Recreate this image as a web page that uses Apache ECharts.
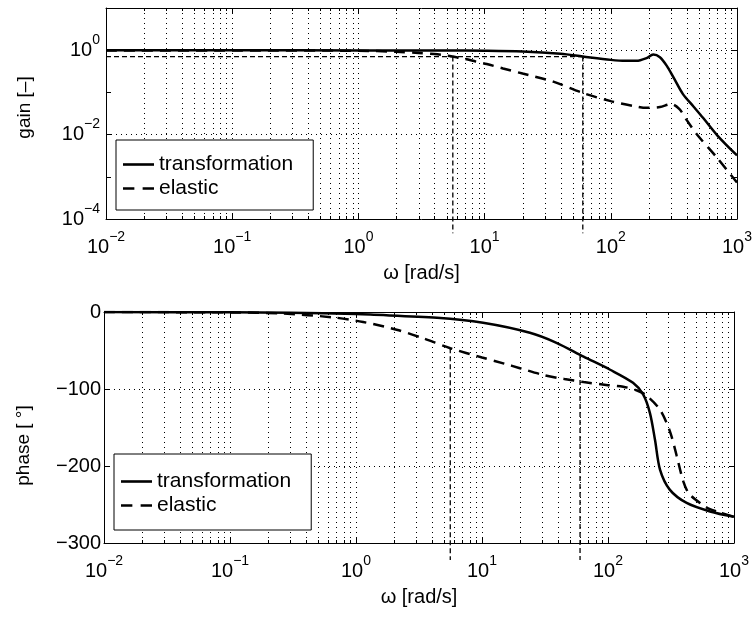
<!DOCTYPE html>
<html>
<head>
<meta charset="utf-8">
<script src="https://cdn.jsdelivr.net/npm/echarts@6/dist/echarts.min.js"></script>
<style>
html,body{margin:0;padding:0;background:#fff;}
#chart{width:755px;height:619px;}
</style>
</head>
<body>
<div id="chart"></div>
<script>
// ---------- data ----------
const seriesNames = ['transformation', 'elastic'];

// gain, transformation
const gainFreqT = [0.01, 0.1, 1, 5, 10, 20, 40, 60, 100, 130, 160, 192, 217, 245, 277, 313, 373, 450, 538, 700, 1000];
const gainT     = [1.0, 1.0, 0.99, 0.98, 0.97, 0.93, 0.82, 0.707, 0.59, 0.56, 0.56, 0.65, 0.79, 0.68, 0.43, 0.23, 0.091, 0.047, 0.025, 0.0095, 0.0032];

// gain, elastic
const gainFreqE = [0.01, 0.1, 1, 2, 3, 4, 5, 5.6, 7, 8.5, 10.4, 14, 20, 35, 60, 100, 150, 192, 245, 300, 350, 400, 480, 690, 1000];
const gainE     = [0.99, 0.99, 0.97, 0.92, 0.86, 0.81, 0.75, 0.707, 0.62, 0.54, 0.47, 0.37, 0.28, 0.18, 0.097, 0.062, 0.048, 0.043, 0.045, 0.053, 0.040, 0.022, 0.0102, 0.0029, 0.00073];

// phase, transformation
const phaseFreqT = [0.01, 0.1, 0.3, 1, 1.3, 4.4, 10.2, 24, 39, 64, 104, 158, 190, 215, 236, 259, 310, 421, 645, 1000];
const phaseT     = [0, -0.4, -1, -2.7, -3.4, -7.5, -14, -27, -40, -58, -75, -92, -107, -131, -166, -205, -231, -248, -259, -266];

// phase, elastic
const phaseFreqE = [0.01, 0.1, 0.26, 0.66, 1.14, 2.1, 3.4, 5.6, 10, 15, 20, 31, 45, 64, 100, 132, 170, 200, 259, 310, 350, 396, 440, 570, 645, 1000];
const phaseE     = [0, -0.5, -2, -7, -13, -23, -34, -47, -59, -67, -73, -82, -87, -91, -95, -97, -102, -108, -127, -155, -186, -220, -236, -251, -256, -266];

// bandwidth marker lines
const bwFreqElastic = 5.6;
const bwFreqTrans = 60;
const bwGain = 0.707;
const gainMarkerFloor = 4.6e-5;     // markers run just below the axis
const phaseAtBwElastic = -47;
const phaseAtBwTrans = -57;
const phaseMarkerFloor = -322;

// axis ranges / ticks
const xMin = 0.01, xMax = 1000;
const gainMin = 1e-4, gainMax = 10;
const phaseMin = -300, phaseMax = 0, phaseStep = 100;
const gainGridValues = [1, 0.01];
const minorMultipliers = [2, 3, 4, 5, 6, 7, 8, 9];
const decadeStarts = [0.01, 0.1, 1, 10, 100];

// ---------- helpers ----------
const FONT = 'Liberation Sans';
const zip = (xs, ys) => xs.map((x, i) => [x, ys[i]]);
const minorX = [];
decadeStarts.forEach(d => minorMultipliers.forEach(m => minorX.push(+(d * m).toPrecision(6))));

const powLabel = v => {
  const e = Math.round(Math.log10(v));
  return '{b|10}{e|' + (e < 0 ? '\u2212' + (-e) : e) + '}';
};
const rich = {
  b: {fontSize: 20, fontFamily: FONT, color: '#000', lineHeight: 34, verticalAlign: 'middle'},
  e: {fontSize: 14, fontFamily: FONT, color: '#000', lineHeight: 14, verticalAlign: 'top'}
};
const dotted = {color: '#000', width: 1, type: [1, 4]};

function minorRender(params, api) {
  const x = Math.round(api.coord([api.value(0), api.value(1)])[0]) + 0.5;
  const cs = params.coordSys;
  const y0 = cs.y, y1 = cs.y + cs.height;
  return {
    type: 'group',
    children: [
      {type: 'line', shape: {x1: x, y1: y0, x2: x, y2: y1}, style: {stroke: '#000', lineWidth: 1, lineDash: [1, 4]}},
      {type: 'line', shape: {x1: x, y1: y1, x2: x, y2: y1 - 3}, style: {stroke: '#000', lineWidth: 1}},
      {type: 'line', shape: {x1: x, y1: y0, x2: x, y2: y0 + 3}, style: {stroke: '#000', lineWidth: 1}}
    ]
  };
}

function xAxisPair(gridIndex) {
  const base = {
    type: 'log', logBase: 10, min: xMin, max: xMax, splitNumber: 5, gridIndex,
    axisLine: {show: true, onZero: false, lineStyle: {color: '#000', width: 1}},
    axisTick: {show: true, inside: true, length: 5, lineStyle: {color: '#000'}},
    minorTick: {show: false}
  };
  return [
    Object.assign({}, base, {
      position: 'bottom',
      axisLabel: {show: true, margin: 11, formatter: powLabel, rich},
      splitLine: {show: true, lineStyle: dotted},
      name: '\u03c9 [rad/s]', nameLocation: 'middle', nameGap: 44,
      nameTextStyle: {fontSize: 20, fontFamily: FONT, color: '#000'}
    }),
    Object.assign({}, base, {
      position: 'top', axisLabel: {show: false}, splitLine: {show: false}
    })
  ];
}

const lineStyleSolid = {color: '#000', width: 2.5, type: 'solid'};
const lineStyleDash = {color: '#000', width: 2.5, type: [11, 7]};
const markerStyle = {color: '#000', width: 1.3, type: [5, 3]};

const iconSolid = 'path://M0,0H31V2.6H0Z';
const iconDash = 'path://M0,0H11V2.6H0Z M19,0H30V2.6H19Z';
const legendData = [
  {name: seriesNames[0], icon: iconSolid},
  {name: seriesNames[1], icon: iconDash}
];
const legendBase = {
  orient: 'vertical', data: legendData,
  itemGap: 3, itemWidth: 31, itemHeight: 14,
  itemStyle: {color: '#000', borderWidth: 0},
  textStyle: {fontSize: 21, fontFamily: FONT, color: '#000'},
  borderColor: '#000', borderWidth: 1, backgroundColor: '#fff', borderRadius: 0,
  selectedMode: false
};

const option = {
  animation: false,
  backgroundColor: '#fff',
  textStyle: {fontFamily: FONT},
  grid: [
    {left: 106, top: 8, width: 631, height: 211, outerBoundsMode: 'none', containLabel: false},
    {left: 104, top: 312, width: 630, height: 231, outerBoundsMode: 'none', containLabel: false}
  ],
  legend: [
    Object.assign({}, legendBase, {left: 116, top: 140, padding: [14, 20, 11, 7]}),
    Object.assign({}, legendBase, {left: 114, top: 454, padding: [17, 20, 14, 7]})
  ],
  xAxis: [].concat(xAxisPair(0), xAxisPair(1)),
  yAxis: [
    {
      type: 'log', logBase: 10, min: gainMin, max: gainMax, splitNumber: 5, gridIndex: 0, position: 'left',
      axisLine: {show: true, lineStyle: {color: '#000', width: 1}},
      axisTick: {show: true, inside: true, length: 5, lineStyle: {color: '#000'}},
      axisLabel: {
        show: true, margin: 6, rich,
        formatter: v => {
          const e = Math.round(Math.log10(v));
          return (e % 2 === 0) ? powLabel(v) : '';
        }
      },
      splitLine: {show: false},
      name: 'gain [\u2013]', nameLocation: 'middle', nameGap: 72,
      nameTextStyle: {fontSize: 19, fontFamily: FONT, color: '#000', padding: [0, 0, 0, 12]}
    },
    {
      type: 'log', logBase: 10, min: gainMin, max: gainMax, splitNumber: 5, gridIndex: 0, position: 'right',
      axisLine: {show: true, lineStyle: {color: '#000', width: 1}},
      axisTick: {show: true, inside: true, length: 5, lineStyle: {color: '#000'}},
      axisLabel: {show: false}, splitLine: {show: false}
    },
    {
      type: 'value', min: phaseMin, max: phaseMax, interval: phaseStep, gridIndex: 1, position: 'left',
      axisLine: {show: true, onZero: false, lineStyle: {color: '#000', width: 1}},
      axisTick: {show: true, inside: true, length: 5, lineStyle: {color: '#000'}},
      axisLabel: {
        show: true, margin: 3, fontSize: 20, fontFamily: FONT, color: '#000',
        formatter: v => (v < 0 ? '\u2212' + (-v) : String(v))
      },
      splitLine: {show: true, lineStyle: dotted},
      name: 'phase [ \u00b0]', nameLocation: 'middle', nameGap: 71,
      nameTextStyle: {fontSize: 19, fontFamily: FONT, color: '#000', padding: [0, 36, 0, 0]}
    },
    {
      type: 'value', min: phaseMin, max: phaseMax, interval: phaseStep, gridIndex: 1, position: 'right',
      axisLine: {show: true, onZero: false, lineStyle: {color: '#000', width: 1}},
      axisTick: {show: true, inside: true, length: 5, lineStyle: {color: '#000'}},
      axisLabel: {show: false}, splitLine: {show: false}
    }
  ],
  series: [
    // minor grid + ticks (top)
    {
      type: 'custom', xAxisIndex: 0, yAxisIndex: 0, z: 1, silent: true, clip: false,
      data: minorX.map(v => [v, 1]), renderItem: minorRender,
      markLine: {
        silent: true, symbol: ['none', 'none'], label: {show: false},
        lineStyle: dotted, data: gainGridValues.map(v => ({yAxis: v}))
      }
    },
    // minor grid + ticks (bottom)
    {
      type: 'custom', xAxisIndex: 2, yAxisIndex: 2, z: 1, silent: true, clip: false,
      data: minorX.map(v => [v, -150]), renderItem: minorRender
    },
    // gain curves
    {
      name: seriesNames[0], type: 'line', xAxisIndex: 0, yAxisIndex: 0, z: 5,
      data: zip(gainFreqT, gainT), showSymbol: false, symbol: 'none', smooth: 0.3,
      lineStyle: lineStyleSolid, itemStyle: {color: '#000'}
    },
    {
      name: seriesNames[1], type: 'line', xAxisIndex: 0, yAxisIndex: 0, z: 5,
      data: zip(gainFreqE, gainE), showSymbol: false, symbol: 'none', smooth: 0.3,
      lineStyle: lineStyleDash, itemStyle: {color: '#000'}
    },
    // gain bandwidth markers
    {
      type: 'line', xAxisIndex: 0, yAxisIndex: 0, z: 4, clip: false, symbol: 'none', silent: true,
      data: [[xMin, bwGain], [bwFreqTrans, bwGain]], lineStyle: markerStyle
    },
    {
      type: 'line', xAxisIndex: 0, yAxisIndex: 0, z: 4, clip: false, symbol: 'none', silent: true,
      data: [[bwFreqElastic, bwGain], [bwFreqElastic, gainMarkerFloor]], lineStyle: markerStyle
    },
    {
      type: 'line', xAxisIndex: 0, yAxisIndex: 0, z: 4, clip: false, symbol: 'none', silent: true,
      data: [[bwFreqTrans, bwGain], [bwFreqTrans, gainMarkerFloor]], lineStyle: markerStyle
    },
    // phase curves
    {
      name: seriesNames[0], type: 'line', xAxisIndex: 2, yAxisIndex: 2, z: 5,
      data: zip(phaseFreqT, phaseT), showSymbol: false, symbol: 'none', smooth: 0.3,
      lineStyle: lineStyleSolid, itemStyle: {color: '#000'}
    },
    {
      name: seriesNames[1], type: 'line', xAxisIndex: 2, yAxisIndex: 2, z: 5,
      data: zip(phaseFreqE, phaseE), showSymbol: false, symbol: 'none', smooth: 0.3,
      lineStyle: lineStyleDash, itemStyle: {color: '#000'}
    },
    // phase bandwidth markers
    {
      type: 'line', xAxisIndex: 2, yAxisIndex: 2, z: 4, clip: false, symbol: 'none', silent: true,
      data: [[bwFreqElastic, phaseAtBwElastic], [bwFreqElastic, phaseMarkerFloor]], lineStyle: markerStyle
    },
    {
      type: 'line', xAxisIndex: 2, yAxisIndex: 2, z: 4, clip: false, symbol: 'none', silent: true,
      data: [[bwFreqTrans, phaseAtBwTrans], [bwFreqTrans, phaseMarkerFloor]], lineStyle: markerStyle
    }
  ]
};

const chart = echarts.init(document.getElementById('chart'), null, {renderer: 'canvas'});
chart.setOption(option);
</script>
</body>
</html>
